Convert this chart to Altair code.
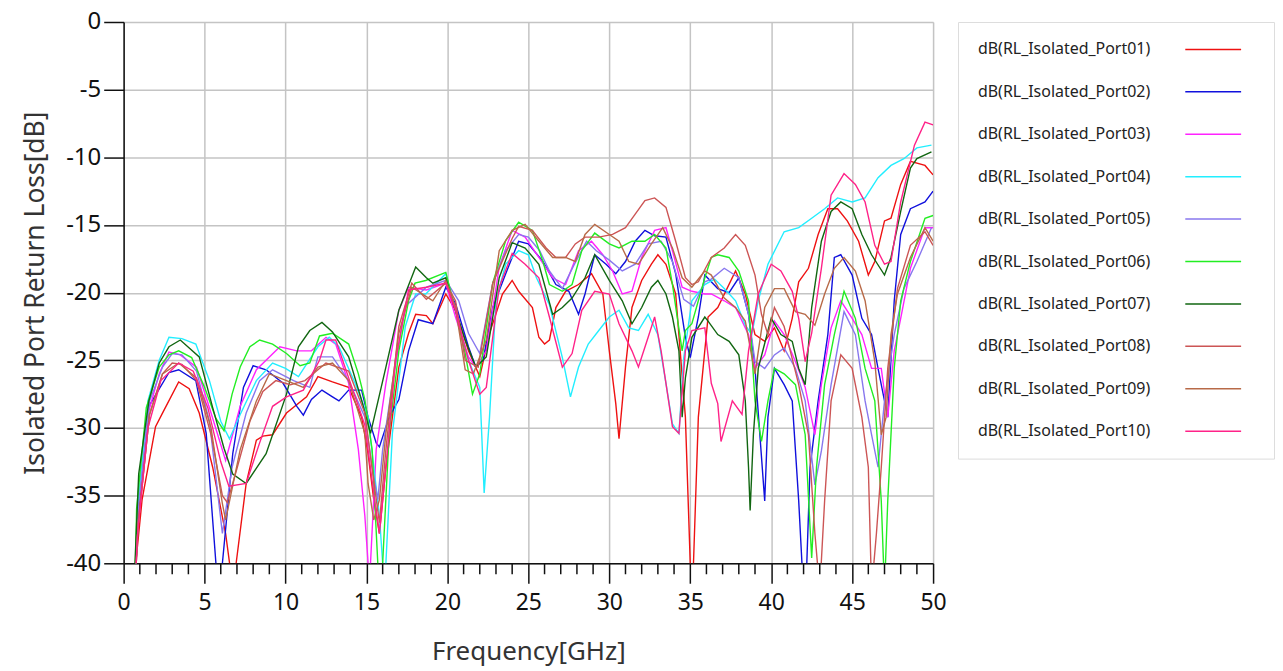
import altair as alt
import pandas as pd

series_names = [f"dB(RL_Isolated_Port{i:02d})" for i in range(1, 11)]
series_colors = ["#ee1111", "#1010dd", "#ff22ff", "#22eeff", "#8877ee",
                 "#22ee22", "#116611", "#cc5555", "#b86a48", "#ff2288"]

p01_f = [0.7, 0.75, 1.14, 1.97, 2.4, 3.4, 4.05, 4.67, 5.5, 6.3, 6.6, 6.8, 6.95, 7.57, 8.2, 8.6, 9.2, 10.06, 11.3, 12.0, 12.9, 13.9, 14.7, 15.1, 15.45, 15.8, 16.2, 17, 17.6, 18.04, 18.7, 19.1, 19.9, 20.5, 21.3, 22, 22.6, 23.4, 24, 24.4, 25.25, 25.65, 26, 26.3, 26.7, 27.3, 28.1, 28.9, 29.6, 30, 30.4, 30.6, 31, 31.4, 32, 32.6, 33, 33.5, 34.1, 34.7, 35, 35.05, 35.2, 35.5, 36.1, 36.7, 37.8, 38.4, 39, 39.6, 40.2, 40.8, 41.3, 41.7, 42.3, 42.9, 43.5, 44.1, 44.7, 45.4, 46, 46.4, 47, 47.4, 48, 48.6, 49.5, 50]
p01_v = [-42, -40, -35.3, -29.9, -28.9, -26.6, -27.1, -28.9, -32.9, -37.8, -40.5, -42, -40, -34.1, -30.9, -30.6, -30.5, -28.9, -27.7, -26.2, -26.6, -27, -29.2, -31.9, -35.3, -37.8, -32.9, -25.5, -23, -21.6, -21.7, -22.3, -20.1, -21.3, -24.3, -26.2, -23, -20.1, -19.1, -19.9, -21.1, -23.3, -23.8, -23.5, -21.1, -19.9, -19.4, -18.6, -20.1, -24.3, -28.2, -30.8, -25.5, -21.1, -19.1, -17.9, -17.2, -17.9, -20.1, -29.2, -40, -42, -40, -29.2, -21.8, -21.1, -18.4, -20.1, -23.1, -23.6, -22.6, -24.3, -21.9, -19.2, -18.2, -15.7, -13.8, -13.8, -14.7, -16.2, -18.7, -17.7, -14.7, -14.5, -12, -10.3, -10.6, -11.3]

p02_f = [0.7, 0.8, 1.56, 2.8, 3.4, 4.46, 5.1, 5.7, 5.9, 6.1, 6.74, 7.4, 8.0, 8.8, 9.85, 10.7, 11.1, 11.6, 12.25, 12.9, 13.3, 13.9, 14.7, 15.1, 15.6, 15.8, 16.4, 17, 17.6, 18.2, 19.1, 19.9, 20.5, 21.3, 21.75, 22.2, 22.8, 23.6, 24.4, 25, 25.9, 26.7, 27.5, 28.1, 28.5, 29.1, 29.8, 30.4, 31, 31.6, 32.2, 32.8, 33.5, 34.1, 34.7, 35, 35.5, 35.9, 36.7, 37.4, 38, 38.6, 39, 39.3, 39.6, 39.8, 40.2, 40.8, 41.3, 41.7, 41.9, 42.05, 42.2, 42.4, 42.9, 43.5, 43.9, 44.3, 45, 45.6, 46.2, 46.6, 47, 47.2, 47.6, 48, 48.6, 49.5, 50]
p02_v = [-42, -38, -28.4, -25.9, -25.7, -26.5, -30.4, -40, -42, -40, -31.9, -27, -25.4, -25.7, -26.7, -28.4, -29.05, -27.9, -27.2, -27.7, -28, -27.2, -27.2, -29.2, -31.1, -31.4, -29.2, -27.9, -24.3, -22, -22.3, -19.6, -20.8, -24, -25.5, -25, -21.1, -18.6, -16.2, -16.4, -17.7, -19.4, -19.9, -21.6, -20.1, -17.2, -17.9, -18.6, -17.7, -16.2, -15.4, -15.8, -15.9, -18.6, -23.3, -24.8, -21.8, -18.7, -19.7, -20, -18.9, -21.6, -25.6, -30.5, -35.4, -29.2, -25.6, -26.8, -28, -35.4, -40, -42, -40, -32.9, -28, -23.1, -17.4, -17.2, -18.7, -21.9, -23.1, -25.6, -28, -29.2, -20.6, -15.7, -13.8, -13.3, -12.5]

p03_f = [0.7, 0.9, 1.5, 2.2, 2.8, 3.5, 4.5, 5.3, 6.3, 7.2, 8.2, 9.65, 10.7, 11.6, 12.5, 13.1, 13.9, 14.5, 14.9, 15.1, 15.17, 15.25, 15.6, 16.2, 17, 17.6, 18.7, 19.9, 20.5, 21.3, 21.75, 22.4, 23.2, 24, 24.8, 25.65, 26.5, 27.3, 28.1, 28.9, 29.6, 30.2, 30.8, 31.4, 32, 32.8, 33.5, 33.9, 34.5, 35.1, 35.9, 36.3, 37.1, 37.8, 38.6, 39, 39.6, 40.2, 40.8, 41.5, 42.1, 42.7, 43.1, 43.7, 44.3, 45, 45.6, 46.2, 46.8, 47.2, 47.6, 48, 48.6, 49.5, 50]
p03_v = [-42, -36, -29, -26, -24.4, -24.6, -25.5, -28.5, -32.4, -28.4, -25.7, -24, -24.3, -24.3, -23.3, -23.8, -26.7, -31.6, -36.5, -40, -42, -40, -31.6, -26.7, -21.3, -19.6, -19.8, -19.3, -21.8, -24.75, -25.5, -24.3, -18.1, -15.4, -15.9, -17.4, -18.9, -19.4, -16.9, -16.2, -17.2, -18.4, -20.1, -19.9, -17.4, -15.4, -15.2, -16.9, -19.6, -19.9, -20.1, -20.1, -20.6, -21.1, -23.1, -25.6, -24.6, -22.1, -23.1, -25.1, -27, -30.5, -26.8, -22.6, -20.6, -21.9, -23.1, -25.6, -25.6, -29.2, -24.3, -21.9, -18.2, -15.2, -15.2]

p04_f = [0.7, 0.85, 1.5, 2.2, 2.8, 3.6, 4.46, 5.3, 6.0, 6.54, 7.2, 8.2, 9.2, 10.0, 10.8, 12, 12.7, 13.3, 14.3, 15.1, 15.8, 16, 16.1, 16.2, 16.6, 17.4, 18.04, 18.66, 19.9, 20.5, 21.3, 22, 22.27, 22.6, 23, 23.6, 24.4, 25, 25.5, 26.3, 27.1, 27.6, 28.1, 28.7, 29.35, 30, 30.6, 31.2, 31.8, 32.4, 33, 33.5, 33.9, 34.3, 34.6, 35.1, 35.9, 36.5, 37.1, 37.8, 38.4, 38.8, 39.2, 39.8, 40.8, 41.7, 42.5, 43.3, 44.1, 45, 45.8, 46.6, 47.4, 48.2, 49, 49.9]
p04_v = [-42, -36, -28, -25, -23.3, -23.4, -23.8, -26.5, -29.5, -30.8, -29, -26.5, -25.2, -25.6, -26.2, -24, -23.3, -24, -26.7, -29.2, -36.5, -40, -42, -40, -30.4, -22.5, -20.1, -20.1, -18.6, -21.3, -25, -27, -34.8, -29.2, -20.6, -17.9, -16.9, -17.2, -18.9, -20.9, -24.8, -27.7, -25.5, -23.8, -22.8, -21.8, -21.3, -22.6, -22.8, -21.6, -23.1, -26.7, -29.7, -30.4, -24.8, -20.6, -19.4, -19.0, -19.7, -20.6, -22.4, -23.1, -20.6, -17.9, -15.5, -15.2, -14.5, -13.8, -13, -13.3, -13, -11.5, -10.6, -10.1, -9.3, -9.1]

p05_f = [0.7, 0.9, 1.6, 2.4, 3.0, 3.6, 4.5, 5.3, 6.1, 6.7, 7.57, 8.4, 9.2, 10.5, 11.5, 12, 12.9, 13.9, 14.9, 15.35, 15.7, 16.0, 16.6, 17.4, 18.7, 19.9, 20.7, 21.3, 22, 22.8, 23.6, 24.4, 25.0, 25.7, 26.3, 27.1, 27.8, 28.6, 29.2, 30, 30.8, 31.6, 32.4, 33.2, 33.9, 34.6, 35.2, 35.9, 36.3, 37.1, 38, 38.6, 39, 39.6, 40.2, 40.8, 41.5, 42.1, 42.7, 43.1, 43.7, 44.5, 45.2, 45.8, 46.2, 46.6, 47, 47.6, 48.2, 49, 49.9]
p05_v = [-42, -36, -28, -25.5, -24.5, -24.6, -25.8, -29.5, -37.8, -32.9, -28.9, -26.5, -25.7, -26.5, -27, -24.75, -24.75, -26.5, -29.2, -32.9, -35.3, -31.6, -26.7, -21, -19.6, -19.1, -20.6, -23, -24.5, -19.3, -16.9, -15.7, -15.9, -16.9, -18.4, -19.7, -18.0, -16.2, -16.9, -17.6, -18.4, -17.9, -16.4, -16.2, -17.7, -20.5, -21, -19.2, -19, -18.2, -18.9, -21.6, -25.1, -25.6, -24.6, -24.1, -25.6, -28, -34.2, -31.7, -26.8, -21.4, -23.1, -28, -30.5, -32.9, -28, -23.1, -19.7, -17.7, -15.2]

p06_f = [0.7, 0.8, 1.4, 2.2, 2.8, 3.4, 4.2, 5.0, 5.7, 6.2, 6.7, 7.2, 7.8, 8.4, 9.2, 10.06, 10.9, 11.5, 12.1, 12.9, 13.9, 14.5, 14.9, 15.35, 15.7, 15.85, 16, 16.4, 17, 17.6, 18.0, 18.66, 19.9, 20.5, 21.1, 21.55, 22, 22.8, 23.6, 24.4, 25.25, 25.9, 26.3, 27.1, 27.7, 28.3, 29.1, 30, 30.6, 31.4, 32.2, 32.8, 33.5, 33.9, 34.5, 34.7, 35.1, 35.9, 36.3, 36.7, 37.4, 38, 38.6, 39, 39.4, 39.8, 40.2, 40.8, 41.5, 42.1, 42.5, 42.8, 43.3, 43.9, 44.5, 45.2, 45.8, 46.4, 46.8, 47, 47.2, 47.6, 48, 48.6, 49.5, 50]
p06_v = [-42, -36, -28.5, -25.5, -24.6, -24.3, -24.8, -27, -29.3, -30.2, -27.5, -25.5, -24, -23.5, -23.8, -24.5, -25.4, -25.2, -23.2, -23, -23.8, -26, -27.9, -31.6, -40, -42, -40, -30.4, -24.3, -20.6, -19.3, -19.1, -18.5, -21.3, -24.5, -27.5, -26, -19.3, -16.15, -14.8, -15.4, -17.7, -19.4, -19.9, -19.4, -16.9, -15.6, -16.4, -16.7, -16.2, -16.2, -15.7, -16.7, -19.4, -24.3, -22.8, -22.3, -18.9, -17.4, -17.2, -17.4, -18.4, -20.6, -28, -31, -28, -25.6, -26, -26.8, -30.5, -39.6, -32.9, -26.8, -23.1, -19.9, -21.9, -25.6, -28, -35.4, -42, -35.4, -25.6, -20.6, -17.7, -14.5, -14.3]

p07_f = [0.7, 0.93, 1.56, 2.2, 2.8, 3.5, 4.67, 5.5, 6.2, 6.74, 7.57, 8.8, 10.06, 10.8, 11.5, 12.25, 12.9, 13.9, 14.7, 15.25, 16.2, 17, 18.04, 18.7, 19.1, 19.9, 20.3, 21.1, 21.75, 22.4, 23.2, 24, 24.8, 25.65, 26.5, 27.1, 27.7, 28.5, 29.1, 30, 30.8, 31.4, 32, 32.6, 33, 33.5, 33.9, 34.3, 34.5, 34.7, 35.1, 35.9, 36.1, 36.7, 37.4, 38, 38.4, 38.6, 38.7, 38.9, 39.2, 40, 40.6, 41.3, 41.7, 42.1, 42.5, 43.1, 43.7, 44.3, 45, 45.6, 46.2, 47, 47.4, 48, 48.6, 49, 49.9]
p07_v = [-40, -33.4, -28, -25.2, -24, -23.5, -24.75, -28.5, -31.5, -33.4, -34.1, -31.9, -27.5, -24.0, -22.8, -22.2, -22.9, -24.75, -27.95, -30.4, -25.5, -21.3, -18.1, -18.9, -19.3, -18.9, -20.6, -23.5, -25.5, -24.75, -18.9, -16.3, -16.7, -17.9, -21.6, -21.1, -20.4, -18.9, -17.2, -19.1, -20.6, -22.3, -21.1, -19.6, -19.1, -20.1, -21.8, -24.3, -29.2, -26.3, -23.3, -21.8, -22.1, -23.1, -23.6, -24.6, -28, -32.9, -36.1, -30.5, -25.6, -21.9, -23.1, -23.6, -25.6, -26.8, -21.1, -16.2, -14, -13.3, -13.8, -15.7, -17.2, -18.7, -17.4, -14, -10.8, -10.1, -9.6]

p08_f = [0.7, 0.9, 1.6, 2.4, 3.0, 3.6, 4.5, 5.4, 6.1, 6.4, 7.0, 7.8, 8.6, 9.4, 10.3, 11.2, 12.5, 13.9, 14.9, 15.45, 15.8, 16.2, 17, 17.8, 18.7, 19.9, 20.5, 21.1, 21.9, 22.8, 24, 24.4, 25.25, 26.1, 26.7, 27.3, 27.9, 28.5, 29.35, 30.2, 31, 31.6, 32.2, 32.8, 33.5, 34.1, 34.7, 35.1, 35.5, 36.3, 37.1, 37.8, 38.4, 39, 39.4, 39.8, 40.2, 40.8, 41.7, 42.3, 42.7, 43, 43.3, 43.7, 44.3, 45, 45.6, 46, 46.2, 46.5, 46.8, 47.2, 47.8, 48.6, 49.5, 50]
p08_v = [-42, -37, -29, -26, -25.2, -25.3, -26.5, -30.5, -35, -35.5, -33, -29.5, -27.3, -26.5, -26.8, -26.5, -25.2, -25.8, -28.9, -33.9, -37, -31.6, -22.5, -19.3, -20.5, -19.3, -20.6, -25.0, -25.5, -19.3, -16, -15.1, -15.4, -16.7, -17.4, -17.4, -16.4, -15.9, -15.9, -15.7, -15.2, -14.2, -13.2, -13, -13.7, -16.2, -18.9, -19.4, -19.2, -17.4, -16.7, -15.7, -16.5, -18.7, -21.6, -23.1, -21.1, -22.5, -26.8, -30.5, -37.8, -42, -35.4, -28, -24.6, -25.6, -29.2, -32.9, -42, -37.8, -32.9, -25.6, -19.7, -16.5, -15.5, -16.5]

p09_f = [0.7, 0.9, 1.6, 2.4, 3.4, 4.5, 5.4, 6.1, 6.3, 7.2, 8.2, 9.0, 10.06, 11.1, 12, 12.9, 13.9, 14.9, 15.1, 15.45, 15.8, 16.2, 17, 17.8, 18.7, 19.1, 19.9, 20.5, 21.1, 21.6, 22.4, 23.2, 24, 24.8, 25.65, 26.5, 27.3, 27.9, 28.5, 29.1, 30, 30.6, 31.2, 31.8, 32.6, 33.3, 33.9, 34.5, 35.1, 35.9, 36.3, 37.1, 37.8, 38.4, 39, 39.6, 40.2, 40.8, 41.5, 42.1, 42.7, 43.3, 43.9, 44.5, 45.2, 45.8, 46.4, 46.8, 47.1, 47.4, 47.8, 48.6, 49.5, 50]
p09_v = [-42, -37, -29, -26, -25.2, -26.3, -30, -35.6, -36.8, -31.6, -28, -26, -26.5, -27, -25.5, -25.2, -26.5, -30.4, -34.1, -36.8, -35.3, -30.4, -23, -19.6, -20.3, -20.6, -19.1, -21.1, -25.7, -26, -23.5, -16.9, -15.4, -14.95, -16.2, -17.4, -17.4, -17.7, -15.7, -14.95, -15.7, -16.2, -17.7, -17.9, -16.4, -15.2, -16.7, -18.9, -19.6, -18.4, -18.7, -20.4, -21.1, -22.1, -26, -21.1, -19.7, -19.7, -21.4, -21.6, -22.4, -20.1, -18.2, -17.4, -18.4, -20.6, -25.1, -30.5, -29.2, -23.1, -20.1, -17.4, -15.2, -16.2]

p10_f = [0.7, 0.85, 1.5, 2.3, 3.4, 4.3, 5.2, 6.0, 6.5, 7.57, 8.4, 9.2, 10.06, 11.1, 12.1, 12.5, 13.1, 13.9, 14.9, 15.5, 15.8, 16.2, 16.8, 17.6, 18.7, 19.9, 20.5, 21.3, 22, 22.4, 23.2, 24, 24.8, 25.65, 26.3, 27.1, 27.7, 28.3, 29.1, 30, 30.6, 31.4, 31.8, 32.4, 32.8, 33.2, 33.9, 34.3, 34.7, 35.1, 35.9, 36.3, 36.7, 36.9, 37.6, 38.2, 38.6, 39.2, 40, 40.6, 41.3, 41.7, 42.1, 42.5, 43.1, 43.7, 44.5, 45.2, 45.8, 46.4, 47, 47.4, 48, 48.85, 49.5, 50]
p10_v = [-42, -38, -30, -26.5, -25.2, -25.8, -28.5, -32.5, -34.3, -34.1, -31.1, -28.4, -27.7, -27.2, -25, -23.5, -23.5, -26.3, -29.8, -35.3, -37.8, -32.9, -25, -19.8, -19.6, -19.3, -21.3, -25, -27.5, -27, -19.6, -17.1, -17.9, -18.9, -21.8, -25.5, -24.5, -21.3, -19.9, -20.1, -22.3, -24.3, -25.5, -23.3, -21.8, -24.3, -29.9, -30.4, -24.3, -22.8, -22.6, -26.7, -28.2, -31, -28, -29, -24.3, -20.1, -17.9, -18.4, -19.9, -21.9, -25.1, -23, -18.2, -12.8, -11.2, -12, -13.3, -16.5, -17.9, -17.7, -13.3, -9.1, -7.4, -7.6]

freqs = [p01_f, p02_f, p03_f, p04_f, p05_f, p06_f, p07_f, p08_f, p09_f, p10_f]
vals = [p01_v, p02_v, p03_v, p04_v, p05_v, p06_v, p07_v, p08_v, p09_v, p10_v]

x_major = list(range(0, 51, 5))
x_minor = [f for f in range(1, 50) if f % 5 != 0]
y_major = list(range(-40, 1, 5))

rows = []
for name, fs, vs in zip(series_names, freqs, vals):
    for f, v in zip(fs, vs):
        rows.append({"series": name, "freq": f, "val": v})
df = pd.DataFrame(rows)

FONT = "Noto Sans"
color_scale = alt.Scale(domain=series_names, range=series_colors)

W, H = 812, 543

lines = alt.Chart(df).mark_line(strokeWidth=1.4, clip=True).encode(
    x=alt.X("freq:Q", scale=alt.Scale(domain=[0, 50], nice=False),
            axis=alt.Axis(values=x_major, title="Frequency[GHz]", tickSize=20,
                          tickWidth=1.5, tickColor="#111", domainColor="#111",
                          domainWidth=1.5, labelFontSize=23, labelPadding=8,
                          labelColor="#111", titleFontSize=26, titleFontWeight="normal",
                          titleColor="#333", titlePadding=25, labelFont=FONT, titleFont=FONT,
                          labelExpr="datum.value + ''",
                          grid=True, gridColor="#c4c4c4", gridWidth=1.5, labelFlush=False)),
    y=alt.Y("val:Q", scale=alt.Scale(domain=[-40, 0], nice=False),
            axis=alt.Axis(values=y_major, title="Isolated Port Return Loss[dB]", tickSize=20,
                          tickWidth=1.5, tickColor="#111", domainColor="#111",
                          domainWidth=1.5, labelFontSize=24, labelPadding=3,
                          labelColor="#111", titleFontSize=26.5, titleFontWeight="normal",
                          titleColor="#333", titlePadding=16, labelFont=FONT, titleFont=FONT,
                          labelExpr="datum.value + ''",
                          grid=True, gridColor="#c4c4c4", gridWidth=1.5, labelFlush=False)),
    color=alt.Color("series:N", scale=color_scale, legend=None),
    detail="series:N",
)

minor_df = pd.DataFrame({"freq": x_minor})
minor = alt.Chart(minor_df).mark_rule(color="#111", strokeWidth=1.5).encode(
    x=alt.X("freq:Q"),
    y=alt.value(H),
    y2=alt.value(H + 11),
)

main = alt.layer(lines, minor).properties(width=W, height=H)

leg_df = pd.DataFrame({"series": series_names})
ly = alt.Y("series:N", scale=alt.Scale(type="point", domain=series_names, padding=0.646), axis=None)
leg_text = alt.Chart(leg_df).mark_text(align="left", baseline="middle", fontSize=16,
                                       font=FONT, color="#222").encode(
    y=ly, x=alt.value(20), text="series:N")
leg_line = alt.Chart(leg_df).mark_rule(strokeWidth=1.5).encode(
    y=ly, x=alt.value(228), x2=alt.value(284),
    color=alt.Color("series:N", scale=color_scale, legend=None))
legend = alt.layer(leg_text, leg_line).properties(width=317, height=438)

chart = alt.hconcat(main, legend, spacing=25, bounds="flush").properties(
    padding={"left": 14, "top": 0, "right": 0, "bottom": 0}
).configure_view(stroke="#111", strokeWidth=1.5).configure(background="white")

chart.save("out.html", embed_options={"renderer": "svg", "actions": False})
